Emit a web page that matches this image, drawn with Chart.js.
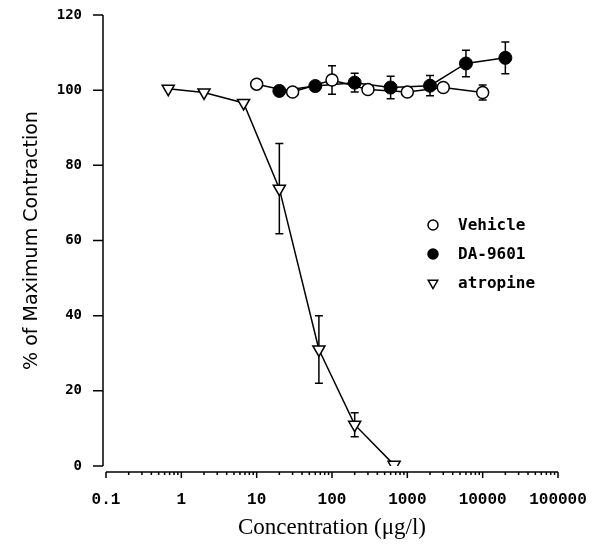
<!DOCTYPE html>
<html>
<head>
<meta charset="utf-8">
<script src="https://cdn.jsdelivr.net/npm/chart.js@4.4.0/dist/chart.umd.min.js"></script>
<style>
    html, body { margin: 0; padding: 0; background: #fff; }
</style>
</head>
<body>
<canvas id="chart" width="603" height="554"></canvas>
<script>
// values
const vehicleX = [10, 30, 100, 300, 1000, 3000, 10000];
const vehicleY = [101.6, 99.5, 102.7, 100.2, 99.5, 100.7, 99.4];
const vehicleErr = [0, 0, 3.8, 0, 0, 0, 2];

const daX = [20, 60, 200, 600, 2000, 6000, 20000];
const daY = [99.8, 101.1, 102, 100.7, 101.2, 107.1, 108.6];
const daErr = [0, 0, 2.5, 3, 2.7, 3.5, 4.2];

const atropineX = [0.67, 2, 6.7, 20, 67, 200, 667];
const atropineY = [100.4, 99.4, 96.6, 73.8, 31, 11, 0.3];
const atropineErr = [0, 0, 0, 12, 9, 3.2, 0];

const xTickValues = [0.1, 1, 10, 100, 1000, 10000, 100000];
const xTickLabels = ['0.1', '1', '10', '100', '1000', '10000', '100000'];
const yTickValues = [0, 20, 40, 60, 80, 100, 120];

function toPoints(xs, ys) {
    return xs.map(function (x, i) { return { x: x, y: ys[i] }; });
}

const errors = [vehicleErr, daErr, atropineErr];

// error bars, drawn under the markers
const errorBars = {
    id: 'errorBars',
    beforeDatasetsDraw: function (chart) {
        const ctx = chart.ctx;
        const xs = chart.scales.x, ys = chart.scales.y;
        ctx.save();
        ctx.strokeStyle = '#000';
        ctx.lineWidth = 1.5;
        chart.data.datasets.forEach(function (ds, d) {
            ds.data.forEach(function (p, i) {
                const e = errors[d][i];
                if (!e) return;
                const x = xs.getPixelForValue(p.x);
                const top = ys.getPixelForValue(p.y + e);
                const bot = ys.getPixelForValue(p.y - e);
                ctx.beginPath();
                ctx.moveTo(x, top); ctx.lineTo(x, bot);
                ctx.moveTo(x - 4, top); ctx.lineTo(x + 4, top);
                ctx.moveTo(x - 4, bot); ctx.lineTo(x + 4, bot);
                ctx.stroke();
            });
        });
        ctx.restore();
    }
};

// axes with the offset x axis and log minor ticks, plus the legend box
const axesAndLegend = {
    id: 'axesAndLegend',
    afterDraw: function (chart) {
        const ctx = chart.ctx;
        const xs = chart.scales.x, ys = chart.scales.y;
        const area = chart.chartArea;
        ctx.save();
        ctx.strokeStyle = '#000';
        ctx.lineWidth = 1.5;

        // y axis
        const ax = area.left - 3;
        ctx.beginPath();
        ctx.moveTo(ax, ys.getPixelForValue(120));
        ctx.lineTo(ax, ys.getPixelForValue(0));
        yTickValues.forEach(function (v) {
            const y = ys.getPixelForValue(v);
            ctx.moveTo(ax - 10, y);
            ctx.lineTo(ax, y);
        });
        ctx.stroke();

        // x axis
        const ay = area.bottom + 6;
        ctx.beginPath();
        ctx.moveTo(xs.getPixelForValue(0.1), ay);
        ctx.lineTo(xs.getPixelForValue(100000), ay);
        for (let k = -1; k <= 5; k++) {
            const x = xs.getPixelForValue(Math.pow(10, k));
            ctx.moveTo(x, ay);
            ctx.lineTo(x, ay + 6);
            if (k === 5) break;
            for (let m = 2; m <= 9; m++) {
                const xm = xs.getPixelForValue(m * Math.pow(10, k));
                ctx.moveTo(xm, ay);
                ctx.lineTo(xm, ay + 3);
            }
        }
        ctx.stroke();

        // legend
        const lx = 433, ly = [225, 254, 283], tx = 458;
        ctx.font = 'bold 16px "DejaVu Sans Mono"';
        ctx.textBaseline = 'middle';
        ctx.textAlign = 'left';
        ctx.fillStyle = '#000';
        chart.data.datasets.forEach(function (ds, d) {
            const y = ly[d];
            ctx.lineWidth = 1.5;
            ctx.beginPath();
            if (ds.pointStyle === 'triangle') {
                const r = 5.5;
                ctx.moveTo(lx, y + r);
                ctx.lineTo(lx - r * 0.866, y - r * 0.5);
                ctx.lineTo(lx + r * 0.866, y - r * 0.5);
                ctx.closePath();
            } else {
                ctx.arc(lx, y, 5, 0, Math.PI * 2);
            }
            ctx.fillStyle = ds.pointBackgroundColor;
            ctx.fill();
            ctx.stroke();
            ctx.fillStyle = '#000';
            ctx.fillText(ds.label, tx, y + 1);
        });
        ctx.restore();
    }
};

new Chart(document.getElementById('chart').getContext('2d'), {
    type: 'line',
    data: {
        datasets: [
            {
                label: 'Vehicle',
                data: toPoints(vehicleX, vehicleY),
                borderColor: '#000',
                borderWidth: 1.5,
                pointStyle: 'circle',
                pointRadius: 6,
                pointBorderWidth: 1.5,
                pointBorderColor: '#000',
                pointBackgroundColor: '#fff'
            },
            {
                label: 'DA-9601',
                data: toPoints(daX, daY),
                borderColor: '#000',
                borderWidth: 1.5,
                pointStyle: 'circle',
                pointRadius: 6.5,
                pointBorderWidth: 1,
                pointBorderColor: '#000',
                pointBackgroundColor: '#000'
            },
            {
                label: 'atropine',
                data: toPoints(atropineX, atropineY),
                borderColor: '#000',
                borderWidth: 1.5,
                pointStyle: 'triangle',
                rotation: 180,
                pointRadius: 7,
                pointBorderWidth: 1.5,
                pointBorderColor: '#000',
                pointBackgroundColor: '#fff'
            }
        ]
    },
    options: {
        responsive: false,
        animation: false,
        devicePixelRatio: 1,
        layout: { padding: { top: 15, right: 45, bottom: 0, left: 0 } },
        plugins: {
            legend: { display: false },
            tooltip: { enabled: false }
        },
        scales: {
            x: {
                type: 'logarithmic',
                min: 0.1,
                max: 100000,
                afterFit: function (scale) { scale.height = 88; },
                grid: { display: false, drawTicks: true, tickLength: 20 },
                border: { display: false },
                ticks: {
                    autoSkip: false,
                    maxRotation: 0,
                    padding: 4,
                    color: '#000',
                    font: { family: '"Liberation Mono"', size: 16, weight: 'bold' },
                    callback: function (value) {
                        for (let i = 0; i < xTickValues.length; i++) {
                            if (Math.abs(value - xTickValues[i]) < xTickValues[i] * 1e-6) return xTickLabels[i];
                        }
                        return '';
                    }
                },
                title: {
                    display: true,
                    text: 'Concentration (μg/l)',
                    color: '#000',
                    font: { family: '"Liberation Serif"', size: 23 },
                    padding: { top: 0, bottom: 12 }
                }
            },
            y: {
                min: 0,
                max: 120,
                afterFit: function (scale) { scale.width = 106; },
                grid: { display: false, drawTicks: true, tickLength: 20 },
                border: { display: false },
                ticks: {
                    stepSize: 20,
                    padding: 4,
                    color: '#000',
                    font: { family: '"DejaVu Sans Mono"', size: 14, weight: 'bold' }
                },
                title: {
                    display: true,
                    text: '% of Maximum Contraction',
                    color: '#000',
                    font: { family: '"DejaVu Sans"', size: 19 },
                    padding: { top: 21, bottom: 0 }
                }
            }
        }
    },
    plugins: [errorBars, axesAndLegend]
});
</script>
</body>
</html>
